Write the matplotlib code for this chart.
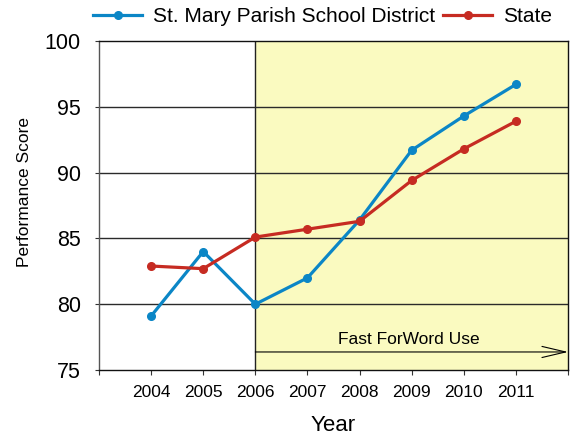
import matplotlib
matplotlib.use("Agg")
import matplotlib.pyplot as plt

years = [2004, 2005, 2006, 2007, 2008, 2009, 2010, 2011]
district = [79.1, 84.0, 80.0, 82.0, 86.4, 91.7, 94.3, 96.7]
state = [82.9, 82.7, 85.1, 85.7, 86.3, 89.4, 91.8, 93.9]
year_ticks = list(range(2003, 2013))
year_labels = [""] + [str(y) for y in years] + [""]
y_ticks = [75, 80, 85, 90, 95, 100]
district_name = "St. Mary Parish School District"
state_name = "State"
program_start = 2006
program_label = "Fast ForWord Use"

plt.rcParams['font.family'] = ['Liberation Sans', 'DejaVu Sans']

fig = plt.figure(figsize=(5.73, 4.40), dpi=100)
ax = fig.add_axes([99/573, 1-370/440, (568-99)/573, (370-41)/440])

ax.set_xlim(2003, 2012)
ax.set_ylim(75, 100)

ax.axvspan(program_start, 2012, facecolor='#FAFAC0', edgecolor='none', zorder=0)
ax.axvline(program_start, color='#222222', lw=1.0, zorder=1)

for g in y_ticks[1:-1]:
    ax.axhline(g, color='#2a2a2a', lw=1.0, zorder=1)

blue = '#0B86C6'
red = '#C62B22'
ax.plot(years, district, color=blue, lw=2.3, marker='o', ms=5.5, label=district_name, zorder=3)
ax.plot(years, state, color=red, lw=2.3, marker='o', ms=5.5, label=state_name, zorder=3)

ax.annotate('', xy=(2012, 76.37), xytext=(program_start, 76.37),
            arrowprops=dict(arrowstyle='->,head_length=1.7,head_width=0.4', lw=0.8,
                            color='black', shrinkA=0, shrinkB=0, mutation_scale=10),
            zorder=4)
ax.text(2008.95, 77.35, program_label, ha='center', va='center', fontsize=12.5, zorder=4)

ax.set_xticks(year_ticks)
ax.set_xticklabels(year_labels, fontsize=12.5)
ax.set_yticks(y_ticks)
ax.set_yticklabels([str(v) for v in y_ticks], fontsize=15.5)
ax.tick_params(axis='x', direction='out', length=3.6, width=0.8, pad=7, color='#333333')
ax.tick_params(axis='y', direction='out', length=3, width=0.8, pad=10, color='#333333')

for s in ['top', 'right', 'bottom']:
    ax.spines[s].set_color('#111111')
    ax.spines[s].set_linewidth(1.0)
ax.spines['left'].set_color('#555555')
ax.spines['left'].set_linewidth(1.0)

ax.set_xlabel('Year', fontsize=16, labelpad=11)
ax.set_ylabel('Performance Score', fontsize=12.5, labelpad=9)
ax.yaxis.label.set_y(0.54)

fig.legend(loc='center', bbox_to_anchor=(322.5/573, 1-17/440), ncol=2, frameon=False,
           fontsize=15, handlelength=2.35, handletextpad=0.5, columnspacing=0.4,
           borderpad=0, borderaxespad=0)

fig.savefig('out.png', dpi=100)
